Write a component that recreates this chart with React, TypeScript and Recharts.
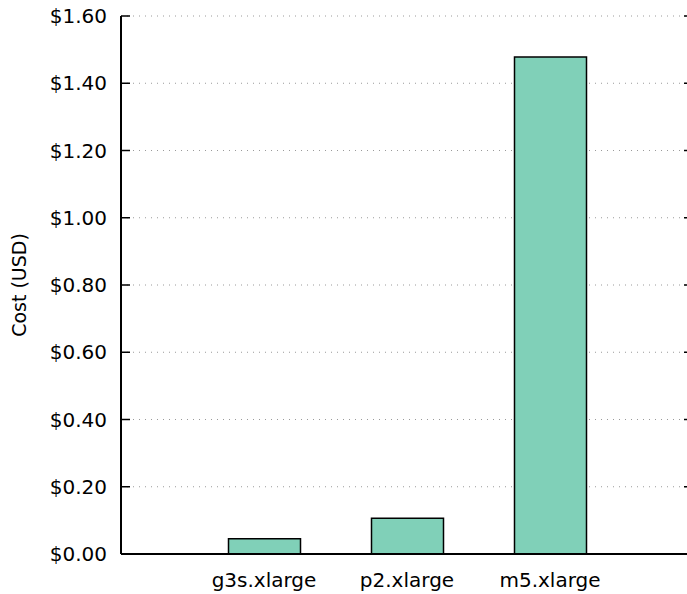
import React from "react";
import { BarChart, Bar, XAxis, YAxis, CartesianGrid, Label } from "recharts";

const instances = ["g3s.xlarge", "p2.xlarge", "m5.xlarge"];
const costs = [0.0455, 0.106, 1.478];
const yTicks = [0, 0.2, 0.4, 0.6, 0.8, 1.0, 1.2, 1.4, 1.6];

const data = instances.map((name, i) => ({ x: i, name, cost: costs[i] }));

const FONT = "'DejaVu Sans', sans-serif";
const PLOT_LEFT = 121;
const PLOT_RIGHT = 693;

const YTick = (props: any) => {
  const { y, payload } = props;
  const v = payload.value as number;
  return (
    <g>
      <line x1={PLOT_LEFT} x2={PLOT_LEFT + 9} y1={y} y2={y} stroke="#000" strokeWidth={1.5} />
      <line x1={PLOT_RIGHT - 9} x2={PLOT_RIGHT} y1={y} y2={y} stroke="#000" strokeWidth={1.5} />
      <text x={107} y={y} dy="0.36em" textAnchor="end" fontFamily={FONT} fontSize={20} fill="#000">
        {"$" + v.toFixed(2)}
      </text>
    </g>
  );
};

const XTick = (props: any) => {
  const { x, payload } = props;
  const i = payload.value as number;
  return (
    <text x={x} y={587} textAnchor="middle" fontFamily={FONT} fontSize={20} fill="#000">
      {instances[i] ?? ""}
    </text>
  );
};

export default function App() {
  return (
    <div style={{ position: "fixed", left: 0, top: 0, width: 687, height: 594, overflow: "hidden", background: "#fff" }}>
      <BarChart
        width={700}
        height={594}
        data={data}
        margin={{ top: 16, right: 7, bottom: 0, left: 0 }}
      >
        <CartesianGrid
          horizontal={true}
          vertical={false}
          stroke="#9a9a9a"
          strokeDasharray="1 5"
          strokeWidth={1}
        />
        <XAxis
          dataKey="x"
          type="number"
          domain={[-1, 3]}
          ticks={[0, 1, 2]}
          height={40}
          axisLine={{ stroke: "#000", strokeWidth: 2 }}
          tickLine={false}
          tick={<XTick />}
          interval={0}
        />
        <XAxis
          xAxisId="top"
          orientation="top"
          dataKey="x"
          type="number"
          domain={[-1, 3]}
          height={0}
          axisLine={{ stroke: "#000", strokeWidth: 2 }}
          tickLine={false}
          tick={false}
        />
        <YAxis
          type="number"
          domain={[0, 1.6]}
          ticks={yTicks}
          width={121}
          axisLine={{ stroke: "#000", strokeWidth: 2 }}
          tickLine={false}
          tick={<YTick />}
          interval={0}
        >
          <Label
            value="Cost (USD)"
            angle={-90}
            position="insideLeft"
            dx={14}
            style={{ fontFamily: FONT, fontSize: 19, fill: "#000", textAnchor: "middle" }}
          />
        </YAxis>
        <Bar
          dataKey="cost"
          fill="#80d0b8"
          stroke="#000"
          strokeWidth={1.5}
          barSize={72}
          isAnimationActive={false}
        />
      </BarChart>
    </div>
  );
}
